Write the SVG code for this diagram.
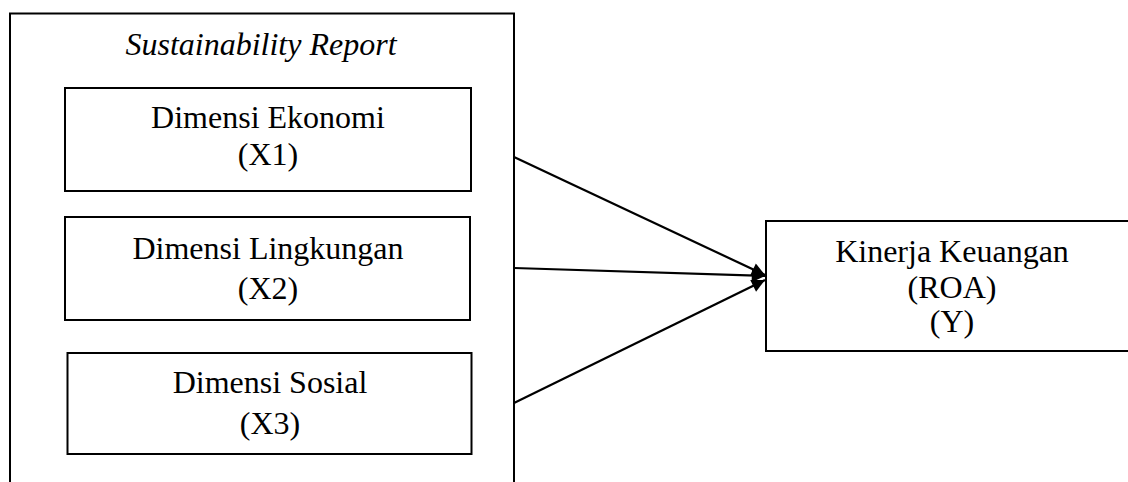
<svg xmlns="http://www.w3.org/2000/svg" width="1128" height="482" viewBox="0 0 1128 482">
<style>
.box{fill:#fff;stroke:#000;stroke-width:2}
.t{font-family:"Liberation Serif","Times New Roman",serif;font-size:32px;fill:#000;text-anchor:middle}
.it{font-style:italic}
.c{stroke:#000;stroke-width:2.2;fill:none}
</style>
<defs>
<marker id="ah" viewBox="0 0 10 10" refX="10" refY="5" markerWidth="7" markerHeight="6" markerUnits="strokeWidth" orient="auto">
<path d="M0,0 L10,5 L0,10 z" fill="#000"/>
</marker>
</defs>
<g id="sustainability-report">
<path d="M10,482 V13.5 H514 V482" fill="none" stroke="#000" stroke-width="2"/>
<text class="t it" x="261" y="55">Sustainability Report</text>
</g>
<g id="x1">
<rect class="box" x="65" y="88" width="406" height="103"/>
<text class="t" x="268" y="128">Dimensi Ekonomi</text>
<text class="t" x="268" y="165">(X1)</text>
</g>
<g id="x2">
<rect class="box" x="65" y="217" width="405" height="103"/>
<text class="t" x="268" y="259">Dimensi Lingkungan</text>
<text class="t" x="268" y="299">(X2)</text>
</g>
<g id="x3">
<rect class="box" x="67.5" y="353" width="404" height="101"/>
<text class="t" x="270" y="393">Dimensi Sosial</text>
<text class="t" x="270" y="434">(X3)</text>
</g>
<g id="y">
<rect class="box" x="766" y="221" width="373" height="130"/>
<text class="t" x="952" y="262">Kinerja Keuangan</text>
<text class="t" x="952" y="298">(ROA)</text>
<text class="t" x="952" y="332">(Y)</text>
</g>
<g id="connectors">
<line class="c" x1="514" y1="157" x2="765" y2="275" marker-end="url(#ah)"/>
<line class="c" x1="514" y1="268" x2="765" y2="276" marker-end="url(#ah)"/>
<line class="c" x1="514" y1="403" x2="765" y2="280" marker-end="url(#ah)"/>
</g>
</svg>
